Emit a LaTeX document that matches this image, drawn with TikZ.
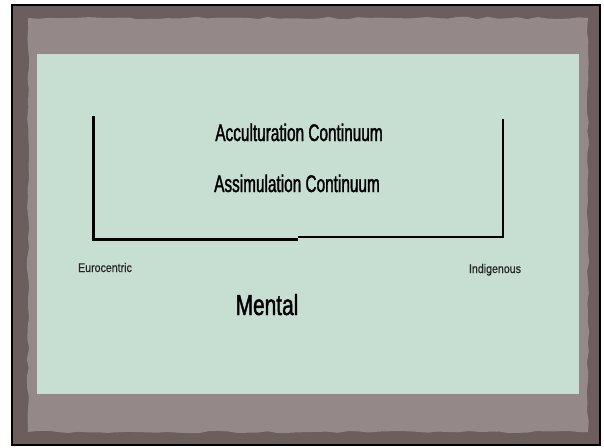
\documentclass[tikz,border=0pt]{standalone}
\usepackage{fontspec}
\usepackage{tikz}
\usetikzlibrary{
  positioning,
  decorations.pathmorphing
}
\newfontfamily\agencyfont[FakeStretch=0.64,FakeBold=1.4]{Liberation Sans}
\newfontfamily\agencybig[FakeStretch=0.72,FakeBold=1.4]{Liberation Sans}
\newfontfamily\agencysmall[FakeStretch=0.85,FakeBold=0.6]{Liberation Sans}
\definecolor{framebrown}{RGB}{108, 94, 92}
\definecolor{paperbrown}{RGB}{148, 136, 136}
\definecolor{slidegreen}{RGB}{199, 223, 211}
\tikzset{
  heading/.style = {
    font=\agencyfont\fontsize{24}{28}\selectfont,
    inner sep=0pt, anchor=base
  },
  bigword/.style = {
    font=\agencybig\fontsize{29}{32}\selectfont,
    inner sep=0pt, anchor=base
  },
  endlabel/.style = {
    font=\agencysmall\fontsize{12.5}{14}\selectfont,
    inner sep=0pt, anchor=base, text=black!85
  },
  bracketline/.style = {draw=black, line width=3pt},
  paperedge/.style = {
    decorate, decoration={random steps, segment length=10pt, amplitude=1.2pt}
  },
}

\begin{document}
\begin{tikzpicture}[x=1pt, y=-1pt]
  \useasboundingbox (0,0) rectangle (604,447);
  \pgfmathsetseed{7}

  % frame and paper
  \fill[white] (0,0) rectangle (604,447);
  \draw[fill=framebrown, line width=2pt] (12,5) rectangle (600,445);
  \fill[paperbrown, paperedge] (28,18) rectangle (588,432);
  \fill[slidegreen] (37,54) rectangle (579,394);

  % bracket corners
  \coordinate (lefttop)  at (93,116);
  \coordinate (leftbot)  at (93,239);
  \coordinate (midstep)  at (298,239);
  \coordinate (midjoin)  at (298,237);
  \coordinate (rightbot) at (503,237);
  \coordinate (righttop) at (503,119);

  \draw[bracketline] (lefttop) -- (leftbot) -- (midstep);
  \draw[bracketline, line width=2.4pt] (midjoin) -- (rightbot) -- (righttop);

  % labels
  \node[heading]  (accult) at (299,141) {Acculturation Continuum};
  \node[heading]  (assim)  at (297,192) {Assimulation Continuum};
  \node[endlabel] (euro)   at (105,272) {Eurocentric};
  \node[endlabel] (indig)  at (495,273) {Indigenous};
  \node[bigword]  (mental) at (267,315) {Mental};

\end{tikzpicture}
\end{document}
